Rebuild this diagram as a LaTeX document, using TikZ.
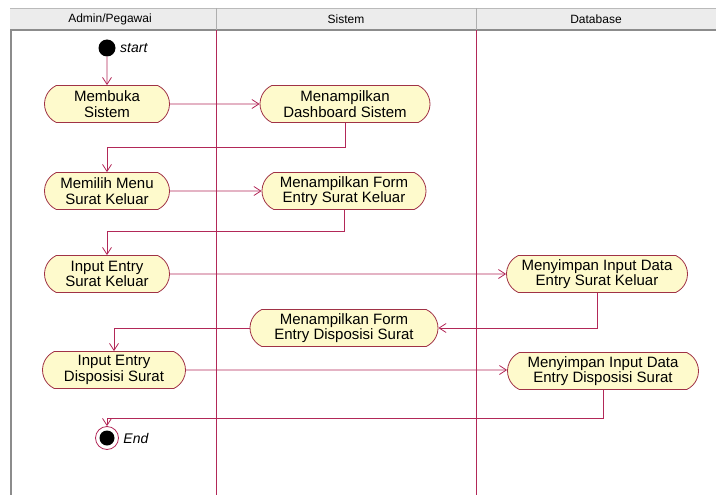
\documentclass[tikz,border=0pt]{standalone}
\usepackage{fontspec}
\setmainfont{Liberation Sans}
\usepackage[usenames]{xcolor}
\usepackage{tikz}
\usetikzlibrary{arrows.meta,shapes,positioning}

\definecolor{flowred}{RGB}{178,40,88}
\definecolor{actfill}{RGB}{254,250,204}
\definecolor{actline}{RGB}{160,50,70}
\definecolor{headfill}{RGB}{236,236,236}
\definecolor{headline}{RGB}{140,140,140}

\begin{document}
\begin{tikzpicture}[x=1pt, y=-1pt]
\tikzstyle{action} = [rounded rectangle, rounded rectangle arc length=130, draw = actline, fill = actfill, thick, minimum height=37pt, inner sep=2pt, align=center, font=\fontsize{15}{15.5}\selectfont]
\tikzstyle{flow} = [draw = flowred, thick, -{Straight Barb[length=7pt, width=9pt]}]
\tikzstyle{lane} = [draw = flowred, thick]
\tikzstyle{lanehead} = [font=\fontsize{12}{13}\selectfont]
\useasboundingbox (0,0) rectangle (717,495);

% swimlanes
\fill[headfill] (10,8) rectangle (716,30);
\draw[headline!60] (10,8) -- (716,8);
\draw[headline, line width=2pt] (10,30) -- (716,30);
\draw[headline!70] (216,8) -- (216,30);
\draw[headline!70] (476,8) -- (476,30);
\draw[headline, line width=2.5pt] (11,30) -- (11,495);
\draw[lane] (216,30) -- (216,495);
\draw[lane] (476,30) -- (476,495);
\node (hadmin) [lanehead] at (110,19) {Admin/Pegawai};
\node (hsistem) [lanehead] at (346,19) {Sistem};
\node (hdb) [lanehead] at (596,19) {Database};

% start / end
\node (start) [circle, fill=black, minimum size=17pt, inner sep=0pt] at (107,48) {};
\node [right = 1pt of start, font=\fontsize{14}{15}\selectfont\itshape] {start};
\node (end) [circle, draw=flowred, fill=white, thick, minimum size=23pt, inner sep=0pt,
  path picture={\fill[black] (path picture bounding box.center) circle (7.5pt);}] at (107,438) {};
\node [right = 1pt of end, font=\fontsize{14}{15}\selectfont\itshape] {End};

% actions
\node (membuka) [action, minimum width=129pt] at (107,104) {Membuka\\Sistem};
\node (dashboard) [action, minimum width=174pt] at (345,104) {Menampilkan\\Dashboard Sistem};
\node (memilih) [action, minimum width=129pt] at (107,191) {Memilih Menu\\Surat Keluar};
\node (formkeluar) [action, minimum width=168pt] at (344,191) {Menampilkan Form\\Entry Surat Keluar};
\node (inputkeluar) [action, minimum width=129pt] at (107,274) {Input Entry\\Surat Keluar};
\node (simpankeluar) [action, minimum width=185pt] at (597,274) {Menyimpan Input Data\\Entry Surat Keluar};
\node (formdisposisi) [action, minimum width=192pt] at (344,328) {Menampilkan Form\\Entry Disposisi Surat};
\node (inputdisposisi) [action, minimum width=147pt] at (114,370) {Input Entry\\Disposisi Surat};
\node (simpandisposisi) [action, minimum width=195pt] at (603,371) {Menyimpan Input Data\\Entry Disposisi Surat};

% flows
\draw [flow] (start) -- (membuka);
\draw [flow] (membuka) -- (dashboard);
\draw [flow] (dashboard.south) -- ++(0,24) -| (memilih.north);
\draw [flow] (memilih) -- (formkeluar);
\draw [flow] (formkeluar.south) -- ++(0,21) -| (inputkeluar.north);
\draw [flow] (inputkeluar) -- (simpankeluar);
\draw [flow] (simpankeluar.south) |- (formdisposisi.east);
\draw [flow] (formdisposisi.west) -| (inputdisposisi.north);
\draw [flow] (inputdisposisi) -- (simpandisposisi.west |- inputdisposisi);
\draw [flow] (simpandisposisi.south) -- ++(0,28) -| (end.north);
\end{tikzpicture}
\end{document}
